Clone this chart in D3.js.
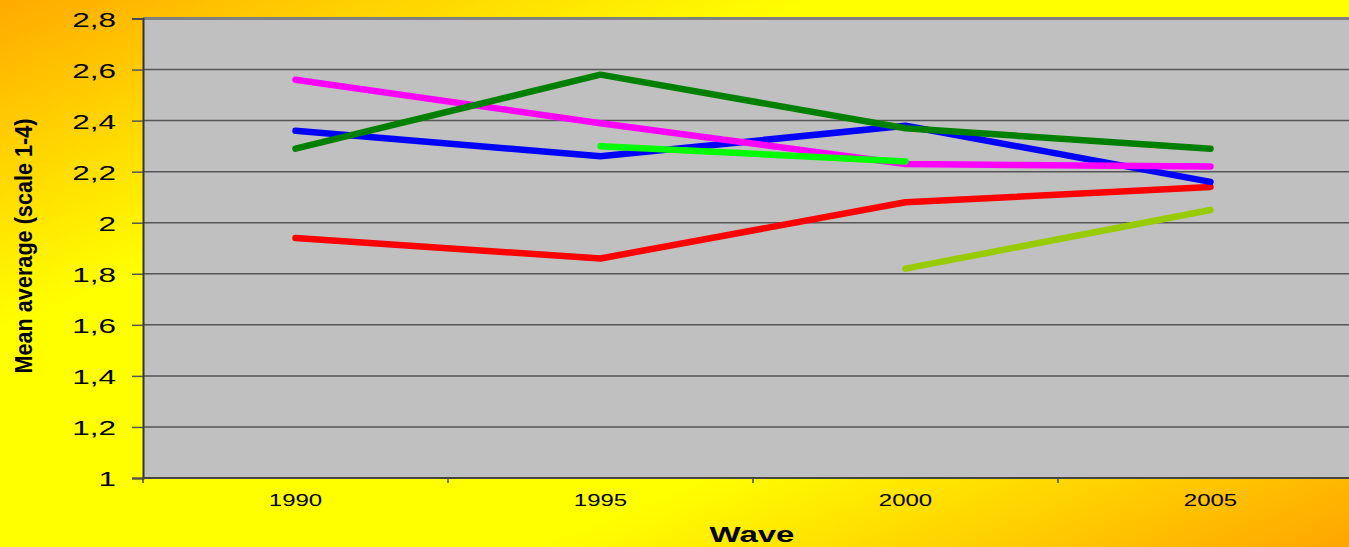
<!DOCTYPE html>
<html>
<head>
<meta charset="utf-8">
<script src="https://cdn.jsdelivr.net/npm/d3@7"></script>
<style>
  html, body { margin: 0; padding: 0; overflow: hidden; }
  text { font-family: "Liberation Sans", Arial, sans-serif; fill: #000; }
</style>
</head>
<body>
<svg id="chart" width="1349" height="547"></svg>
<script>
const waves = ['1990', '1995', '2000', '2005'];
const yTicks = [1, 1.2, 1.4, 1.6, 1.8, 2, 2.2, 2.4, 2.6, 2.8];

// one array per line, null where no value
const redValues = [1.94, 1.86, 2.08, 2.14];
const blueValues = [2.36, 2.26, 2.38, 2.16];
const pinkValues = [2.56, 2.39, 2.23, 2.22];
const darkGreenValues = [2.29, 2.58, 2.37, 2.29];
const limeValues = [null, 2.30, 2.24, null];
const oliveValues = [null, null, 1.82, 2.05];

const series = [
  { color: '#FF0000', values: redValues },
  { color: '#0000FF', values: blueValues },
  { color: '#FF00FF', values: pinkValues },
  { color: '#008000', values: darkGreenValues },
  { color: '#00FF00', values: limeValues },
  { color: '#99CC00', values: oliveValues }
];

const svg = d3.select('#chart');
const plotLeft = 143, plotTop = 18.5, plotBottom = 478, band = 305;

const defs = svg.append('defs');
const grad = defs.append('linearGradient')
  .attr('id', 'bg')
  .attr('x1', 0).attr('y1', 0).attr('x2', 1).attr('y2', 1);
grad.append('stop').attr('offset', 0).attr('stop-color', '#FFAA00');
grad.append('stop').attr('offset', 0.3).attr('stop-color', '#FFFF00');
grad.append('stop').attr('offset', 0.7).attr('stop-color', '#FFFF00');
grad.append('stop').attr('offset', 1).attr('stop-color', '#FFA500');

svg.append('rect')
  .attr('width', 1349).attr('height', 547)
  .attr('fill', 'url(#bg)');

const x = d3.scaleBand()
  .domain(waves)
  .range([plotLeft, plotLeft + band * waves.length]);
const y = d3.scaleLinear()
  .domain([1, 2.8])
  .range([plotBottom, plotTop]);

// plot area
svg.append('rect')
  .attr('x', plotLeft).attr('y', plotTop)
  .attr('width', 1349 - plotLeft).attr('height', plotBottom - plotTop)
  .attr('fill', '#C0C0C0');
svg.append('line')
  .attr('x1', plotLeft).attr('x2', 1349)
  .attr('y1', plotTop).attr('y2', plotTop)
  .attr('stroke', '#808080').attr('stroke-width', 3);

// gridlines
svg.append('g')
  .selectAll('line')
  .data(yTicks.slice(1, -1))
  .enter()
  .append('line')
  .attr('x1', plotLeft).attr('x2', 1349)
  .attr('y1', d => y(d)).attr('y2', d => y(d))
  .attr('stroke', '#555').attr('stroke-width', 1.5);

// y axis
const yAxis = d3.axisLeft(y)
  .tickValues(yTicks)
  .tickSize(11)
  .tickFormat(d => d3.format('.1~f')(d).replace('.', ','));
const gy = svg.append('g')
  .attr('transform', `translate(${plotLeft}, 0)`)
  .call(yAxis);
gy.select('.domain').attr('stroke', '#333').attr('stroke-width', 2);
gy.selectAll('.tick line').attr('stroke', '#555').attr('stroke-width', 1.5);
gy.selectAll('.tick text')
  .attr('x', null).attr('dy', null)
  .attr('font-size', 21)
  .attr('text-anchor', 'end')
  .attr('transform', 'translate(-27, 7.5) scale(1.5, 1)');

// x axis
svg.append('line')
  .attr('x1', plotLeft).attr('x2', 1349)
  .attr('y1', plotBottom).attr('y2', plotBottom)
  .attr('stroke', '#444').attr('stroke-width', 2);
svg.append('g')
  .selectAll('line')
  .data(waves)
  .enter()
  .append('line')
  .attr('x1', d => x(d)).attr('x2', d => x(d))
  .attr('y1', plotBottom).attr('y2', plotBottom + 5)
  .attr('stroke', '#444').attr('stroke-width', 1.5);
svg.append('g')
  .selectAll('text')
  .data(waves)
  .enter()
  .append('text')
  .attr('transform', d => `translate(${x(d) + x.bandwidth() / 2}, 506) scale(1.5, 1)`)
  .attr('text-anchor', 'middle')
  .attr('font-size', 16)
  .text(d => d);

// lines
const line = d3.line()
  .defined(d => d.v !== null)
  .x(d => x(d.w) + x.bandwidth() / 2)
  .y(d => y(d.v));
svg.append('g')
  .selectAll('path')
  .data(series)
  .enter()
  .append('path')
  .attr('d', s => line(s.values.map((v, i) => ({ w: waves[i], v }))))
  .attr('fill', 'none')
  .attr('stroke', s => s.color)
  .attr('stroke-width', 6.5)
  .attr('stroke-linecap', 'round')
  .attr('stroke-linejoin', 'round');

// titles
svg.append('text')
  .attr('transform', 'translate(752, 542) scale(1.5, 1)')
  .attr('text-anchor', 'middle')
  .attr('font-size', 22)
  .attr('font-weight', 'bold')
  .text('Wave');
svg.append('text')
  .attr('transform', 'translate(32, 246) rotate(-90)')
  .attr('text-anchor', 'middle')
  .attr('font-size', 23)
  .attr('font-weight', 'bold')
  .attr('textLength', 255)
  .attr('lengthAdjust', 'spacingAndGlyphs')
  .text('Mean average (scale 1-4)');
</script>
</body>
</html>
